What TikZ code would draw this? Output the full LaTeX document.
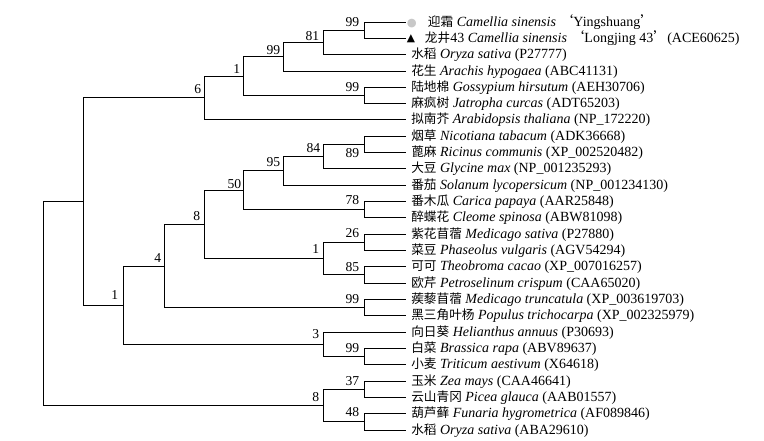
\documentclass[tikz,border=0pt]{standalone}
\usepackage{fontspec}
\usetikzlibrary{calc}
\setmainfont{Liberation Serif}
\newfontfamily\cjk{Noto Sans CJK SC}
\newfontfamily\symf{DejaVu Sans}
\definecolor{dotgray}{RGB}{200,200,200}
\newcommand{\zh}[1]{{\cjk\fontsize{9.5}{10}\selectfont #1}}
\begin{document}
\begin{tikzpicture}[x=0.75pt,y=-0.75pt,
  br/.style={line width=0.75pt, line cap=rect},
  lf/.style={anchor=base west, inner sep=0pt, font=\fontsize{10.5}{12}\selectfont},
  bs/.style={anchor=base east, inner sep=0pt, font=\fontsize{10.2}{12}\selectfont},
  bsb/.style={anchor=north east, inner sep=0pt, font=\fontsize{10.2}{12}\selectfont}]
\useasboundingbox (0,0) rectangle (764,441);
% leaves
\coordinate (l1) at (405,22.5);
\coordinate (l2) at (405,38.5);
\coordinate (l3) at (405,54.5);
\coordinate (l4) at (405,71.5);
\coordinate (l5) at (405,87.5);
\coordinate (l6) at (405,103.5);
\coordinate (l7) at (405,119.5);
\coordinate (l8) at (405,136.5);
\coordinate (l9) at (405,152.5);
\coordinate (l10) at (405,168.5);
\coordinate (l11) at (405,185.5);
\coordinate (l12) at (405,201.5);
\coordinate (l13) at (405,217.5);
\coordinate (l14) at (405,234.5);
\coordinate (l15) at (405,250.5);
\coordinate (l16) at (405,266.5);
\coordinate (l17) at (405,283.5);
\coordinate (l18) at (405,299.5);
\coordinate (l19) at (405,315.5);
\coordinate (l20) at (405,332.5);
\coordinate (l21) at (405,348.5);
\coordinate (l22) at (405,364.5);
\coordinate (l23) at (405,381.5);
\coordinate (l24) at (405,397.5);
\coordinate (l25) at (405,413.5);
\coordinate (l26) at (405,430.5);
% internal nodes
\coordinate (A) at (364.5,30.5);
\coordinate (B) at (323.5,42.5);
\coordinate (C) at (283.5,56.5);
\coordinate (D) at (364.5,95.5);
\coordinate (E) at (243.5,76.5);
\coordinate (F) at (204.5,97.5);
\coordinate (G) at (364.5,144.5);
\coordinate (H) at (323.5,156.5);
\coordinate (I) at (283.5,170.5);
\coordinate (J) at (364.5,209.5);
\coordinate (K) at (243.5,190.5);
\coordinate (L) at (364.5,242.5);
\coordinate (M) at (364.5,274.5);
\coordinate (N) at (323.5,258.5);
\coordinate (O) at (204.5,224.5);
\coordinate (P) at (364.5,307.5);
\coordinate (Q) at (164.5,266.5);
\coordinate (R) at (364.5,356.5);
\coordinate (S) at (323.5,344.5);
\coordinate (T) at (123.5,305.5);
\coordinate (U) at (83.5,201.5);
\coordinate (V) at (364.5,389.5);
\coordinate (W) at (364.5,421.5);
\coordinate (X) at (323.5,405.5);
\coordinate (root) at (43.5,303.5);
% branches
\draw[br] (A) |- (l1); \draw[br] (A) |- (l2);
\draw[br] (B) |- (A);  \draw[br] (B) |- (l3);
\draw[br] (C) |- (B);  \draw[br] (C) |- (l4);
\draw[br] (D) |- (l5); \draw[br] (D) |- (l6);
\draw[br] (E) |- (C);  \draw[br] (E) |- (D);
\draw[br] (F) |- (E);  \draw[br] (F) |- (l7);
\draw[br] (G) |- (l8); \draw[br] (G) |- (l9);
\draw[br] (H) |- (G);  \draw[br] (H) |- (l10);
\draw[br] (I) |- (H);  \draw[br] (I) |- (l11);
\draw[br] (J) |- (l12); \draw[br] (J) |- (l13);
\draw[br] (K) |- (I);  \draw[br] (K) |- (J);
\draw[br] (L) |- (l14); \draw[br] (L) |- (l15);
\draw[br] (M) |- (l16); \draw[br] (M) |- (l17);
\draw[br] (N) |- (L);  \draw[br] (N) |- (M);
\draw[br] (O) |- (K);  \draw[br] (O) |- (N);
\draw[br] (P) |- (l18); \draw[br] (P) |- (l19);
\draw[br] (Q) |- (O);  \draw[br] (Q) |- (P);
\draw[br] (R) |- (l21); \draw[br] (R) |- (l22);
\draw[br] (S) |- (l20); \draw[br] (S) |- (R);
\draw[br] (T) |- (Q);  \draw[br] (T) |- (S);
\draw[br] (U) |- (F);  \draw[br] (U) |- (T);
\draw[br] (V) |- (l23); \draw[br] (V) |- (l24);
\draw[br] (W) |- (l25); \draw[br] (W) |- (l26);
\draw[br] (X) |- (V);  \draw[br] (X) |- (W);
\draw[br] (root) |- (U); \draw[br] (root) |- (X);
% bootstrap values
\node[bs] (bA) at ($(A)+(-5,-4)$) {99};
\node[bs] (bB) at ($(B)+(-4,-2)$) {81};
\node[bs] (bC) at ($(C)+(-3,-2)$) {99};
\node[bs] (bD) at ($(D)+(-5,-4)$) {99};
\node[bs] (bE) at ($(E)+(-3,-3)$) {1};
\node[bs] (bF) at ($(F)+(-3,-4)$) {6};
\node[bsb] (bG) at ($(G)+(-5,4)$) {89};
\node[bs] (bH) at ($(H)+(-3,-4)$) {84};
\node[bs] (bI) at ($(I)+(-3,-4)$) {95};
\node[bs] (bJ) at ($(J)+(-5,-5)$) {78};
\node[bs] (bK) at ($(K)+(-2,-2)$) {50};
\node[bs] (bL) at ($(L)+(-5,-5)$) {26};
\node[bs] (bM) at ($(M)+(-5,-3)$) {85};
\node[bs] (bN) at ($(N)+(-4,-5)$) {1};
\node[bs] (bO) at ($(O)+(-4,-4)$) {8};
\node[bs] (bP) at ($(P)+(-5,-4)$) {99};
\node[bs] (bQ) at ($(Q)+(-3,-4)$) {4};
\node[bs] (bR) at ($(R)+(-5,-4)$) {99};
\node[bs] (bS) at ($(S)+(-4,-6)$) {3};
\node[bs] (bT) at ($(T)+(-5,-6)$) {1};
\node[bs] (bV) at ($(V)+(-5,-4)$) {37};
\node[bs] (bW) at ($(W)+(-5,-5)$) {48};
\node[bs] (bX) at ($(X)+(-4,-4)$) {8};
% leaf labels
\node[lf] (t1) at ($(l1)+(1.5,4.5)$) {{\symf\fontsize{8.5}{8}\selectfont\color{dotgray}●}\hspace{8.5pt}\zh{迎霜} \textit{Camellia sinensis} {\cjk‘}Yingshuang{\cjk’}};
\node[lf] (t2) at ($(l2)+(1.5,4.5)$) {\raisebox{1.2pt}{\symf\fontsize{8}{8}\selectfont ▲}\hspace{7.5pt}\zh{龙井}43 \textit{Camellia sinensis} {\cjk‘}Longjing 43{\cjk’}(ACE60625)};
\node[lf] (t3) at ($(l3)+(6,4.5)$) {\zh{水稻} \textit{Oryza sativa} (P27777)};
\node[lf] (t4) at ($(l4)+(6,4.5)$) {\zh{花生} \textit{Arachis hypogaea} (ABC41131)};
\node[lf] (t5) at ($(l5)+(6,4.5)$) {\zh{陆地棉} \textit{Gossypium hirsutum} (AEH30706)};
\node[lf] (t6) at ($(l6)+(6,4.5)$) {\zh{麻疯树} \textit{Jatropha curcas} (ADT65203)};
\node[lf] (t7) at ($(l7)+(6,4.5)$) {\zh{拟南芥} \textit{Arabidopsis thaliana} (NP\_172220)};
\node[lf] (t8) at ($(l8)+(6,4.5)$) {\zh{烟草} \textit{Nicotiana tabacum} (ADK36668)};
\node[lf] (t9) at ($(l9)+(6,4.5)$) {\zh{蓖麻} \textit{Ricinus communis} (XP\_002520482)};
\node[lf] (t10) at ($(l10)+(6,4.5)$) {\zh{大豆} \textit{Glycine max} (NP\_001235293)};
\node[lf] (t11) at ($(l11)+(6,4.5)$) {\zh{番茄} \textit{Solanum lycopersicum} (NP\_001234130)};
\node[lf] (t12) at ($(l12)+(6,4.5)$) {\zh{番木瓜} \textit{Carica papaya} (AAR25848)};
\node[lf] (t13) at ($(l13)+(6,4.5)$) {\zh{醉蝶花} \textit{Cleome spinosa} (ABW81098)};
\node[lf] (t14) at ($(l14)+(6,4.5)$) {\zh{紫花苜蓿} \textit{Medicago sativa} (P27880)};
\node[lf] (t15) at ($(l15)+(6,4.5)$) {\zh{菜豆} \textit{Phaseolus vulgaris} (AGV54294)};
\node[lf] (t16) at ($(l16)+(6,4.5)$) {\zh{可可} \textit{Theobroma cacao} (XP\_007016257)};
\node[lf] (t17) at ($(l17)+(6,4.5)$) {\zh{欧芹} \textit{Petroselinum crispum} (CAA65020)};
\node[lf] (t18) at ($(l18)+(6,4.5)$) {\zh{蒺藜苜蓿} \textit{Medicago truncatula} (XP\_003619703)};
\node[lf] (t19) at ($(l19)+(6,4.5)$) {\zh{黑三角叶杨} \textit{Populus trichocarpa} (XP\_002325979)};
\node[lf] (t20) at ($(l20)+(6,4.5)$) {\zh{向日葵} \textit{Helianthus annuus} (P30693)};
\node[lf] (t21) at ($(l21)+(6,4.5)$) {\zh{白菜} \textit{Brassica rapa} (ABV89637)};
\node[lf] (t22) at ($(l22)+(6,4.5)$) {\zh{小麦} \textit{Triticum aestivum} (X64618)};
\node[lf] (t23) at ($(l23)+(6,4.5)$) {\zh{玉米} \textit{Zea mays} (CAA46641)};
\node[lf] (t24) at ($(l24)+(6,4.5)$) {\zh{云山青冈} \textit{Picea glauca} (AAB01557)};
\node[lf] (t25) at ($(l25)+(6,4.5)$) {\zh{葫芦藓} \textit{Funaria hygrometrica} (AF089846)};
\node[lf] (t26) at ($(l26)+(6,4.5)$) {\zh{水稻} \textit{Oryza sativa} (ABA29610)};
\end{tikzpicture}
\end{document}
